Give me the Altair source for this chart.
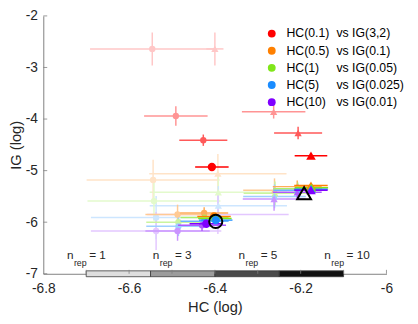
import altair as alt
import pandas as pd

# ---------------- data ----------------
hc_names = ["HC(0.1)", "HC(0.5)", "HC(1)", "HC(5)", "HC(10)"]
ig_names = ["vs IG(3,2)", "vs IG(0.1)", "vs IG(0.05)", "vs IG(0.025)", "vs IG(0.01)"]
base_colors = ["#FF0000", "#FF8000", "#80E619", "#1A8CFF", "#8000FF"]
nrep = [1, 3, 5, 10]
shade = [0.22, 0.42, 0.65, 1.0]

# circle markers (rows: series, cols: n_rep 1,3,5,10)
circ_x = [
    [-6.546, -6.491, -6.427, -6.407],
    [-6.544, -6.487, -6.425, -6.402],
    [-6.542, -6.485, -6.424, -6.400],
    [-6.537, -6.485, -6.424, -6.398],
    [-6.537, -6.487, -6.430, -6.420],
]
circ_y = [
    [-2.64, -3.94, -4.41, -4.93],
    [-5.18, -5.85, -5.82, -5.89],
    [-5.59, -6.00, -5.91, -5.93],
    [-5.91, -6.08, -5.98, -5.96],
    [-6.17, -6.17, -6.06, -6.03],
]
circ_xerr = [
    [0.145, 0.074, 0.056, 0.039],
    [0.155, 0.075, 0.056, 0.039],
    [0.155, 0.075, 0.056, 0.039],
    [0.152, 0.075, 0.056, 0.039],
    [0.152, 0.075, 0.056, 0.039],
]
circ_yerr = [
    [0.32, 0.19, 0.11, 0.05],
    [0.39, 0.19, 0.11, 0.05],
    [0.38, 0.19, 0.11, 0.05],
    [0.42, 0.19, 0.11, 0.05],
    [0.37, 0.19, 0.11, 0.05],
]
# triangle markers
tri_x = [
    [-6.400, -6.263, -6.206, -6.176],
    [-6.393, -6.261, -6.208, -6.176],
    [-6.392, -6.260, -6.207, -6.175],
    [-6.392, -6.261, -6.207, -6.176],
    [-6.393, -6.262, -6.208, -6.176],
]
tri_y = [
    [-2.64, -3.86, -4.27, -4.71],
    [-5.06, -5.38, -5.31, -5.29],
    [-5.42, -5.44, -5.35, -5.33],
    [-5.68, -5.50, -5.38, -5.36],
    [-5.85, -5.55, -5.42, -5.38],
]
tri_xerr = [
    [0.020, 0.074, 0.056, 0.038],
    [0.160, 0.073, 0.057, 0.039],
    [0.160, 0.073, 0.057, 0.039],
    [0.160, 0.073, 0.057, 0.039],
    [0.165, 0.073, 0.057, 0.039],
]
tri_yerr = [
    [0.32, 0.13, 0.12, 0.05],
    [0.38, 0.23, 0.12, 0.05],
    [0.38, 0.23, 0.12, 0.05],
    [0.38, 0.23, 0.12, 0.05],
    [0.38, 0.23, 0.12, 0.05],
]
# reference (true) values
ref_x = [-6.398, -6.192]
ref_y = [-5.985, -5.44]
ref_shape = ["circle", "triangle-up"]

# colorbar of n_rep
cbar_edges = [-6.7, -6.55, -6.4, -6.25, -6.1]
cbar_grays = ["#DEDEDE", "#9C9C9C", "#4A4A4A", "#111111"]
cbar_label_x = [-6.7, -6.5, -6.3, -6.1]

x_ticks_major = [-6.8, -6.6, -6.4, -6.2, -6.0]
x_ticks_minor = [-6.7, -6.6, -6.5, -6.4, -6.3, -6.2, -6.1, -6.0]
y_ticks = [-7, -6, -5, -4, -3, -2]

# ---------------- build tables ----------------
def blend(hexc, a):
    r, g, b = int(hexc[1:3], 16), int(hexc[3:5], 16), int(hexc[5:7], 16)
    f = lambda c: int(round(255 - (255 - c) * a))
    return "#%02X%02X%02X" % (f(r), f(g), f(b))

rows = []
for s in range(5):
    for k in range(4):
        col = blend(base_colors[s], shade[k])
        big = k == 3
        rows.append(dict(s=s, k=k, shape="circle", x=circ_x[s][k], y=circ_y[s][k],
                         xlo=circ_x[s][k] - circ_xerr[s][k], xhi=circ_x[s][k] + circ_xerr[s][k],
                         ylo=circ_y[s][k] - circ_yerr[s][k], yhi=circ_y[s][k] + circ_yerr[s][k],
                         color=col, size=72 if big else 42))
        rows.append(dict(s=s, k=k, shape="triangle-up", x=tri_x[s][k], y=tri_y[s][k],
                         xlo=tri_x[s][k] - tri_xerr[s][k], xhi=tri_x[s][k] + tri_xerr[s][k],
                         ylo=tri_y[s][k] - tri_yerr[s][k], yhi=tri_y[s][k] + tri_yerr[s][k],
                         color=col, size=95 if big else 55))
df = pd.DataFrame(rows)

FONT = "Liberation Sans"
TXT = "#262626"
W, H = 350, 263
xs = alt.Scale(domain=[-6.8, -6.0], nice=False, zero=False)
ys = alt.Scale(domain=[-7, -2], nice=False, zero=False)
xaxis = alt.Axis(values=x_ticks_major, labelExpr="toString(datum.value)", title="HC (log)",
                 labelPadding=8, titlePadding=4, labelFlush=False)
yaxis = alt.Axis(values=y_ticks, labelExpr="toString(datum.value)", title="IG (log)",
                 labelPadding=6, titlePadding=2, labelFlush=False)

def X(f):
    return alt.X(f, type="quantitative", scale=xs, axis=xaxis)

def Y(f):
    return alt.Y(f, type="quantitative", scale=ys, axis=yaxis)

layers = []

# colorbar
cb = pd.DataFrame({"x0": cbar_edges[:-1], "x1": cbar_edges[1:], "g": cbar_grays})
layers.append(alt.Chart(cb).mark_rect(stroke="#3a3a3a", strokeWidth=0.8).encode(
    x=X("x0"), x2="x1", y=alt.value(H - 3), y2=alt.value(H + 3),
    color=alt.Color("g:N", scale=None)))

# ticks (inward)
layers.append(alt.Chart(pd.DataFrame({"t": x_ticks_minor})).mark_rule(color="#808080", strokeWidth=0.8).encode(
    x=X("t"), y=alt.value(H), y2=alt.value(H - 4)))
layers.append(alt.Chart(pd.DataFrame({"t": y_ticks})).mark_rule(color="#808080", strokeWidth=0.8).encode(
    y=Y("t"), x=alt.value(0), x2=alt.value(4)))

# data, level by level
for k in range(4):
    d = df[df.k == k]
    layers.append(alt.Chart(d).mark_rule(strokeWidth=1.5).encode(
        x=X("xlo"), x2="xhi", y=Y("y"), color=alt.Color("color:N", scale=None)))
    layers.append(alt.Chart(d).mark_rule(strokeWidth=1.5).encode(
        x=X("x"), y=Y("ylo"), y2="yhi", color=alt.Color("color:N", scale=None)))
    layers.append(alt.Chart(d).mark_point(filled=True, opacity=1).encode(
        x=X("x"), y=Y("y"), color=alt.Color("color:N", scale=None),
        shape=alt.Shape("shape:N", scale=None), size=alt.Size("size:Q", scale=None)))

# reference markers
ref = pd.DataFrame({"x": ref_x, "y": ref_y, "shape": ref_shape, "size": [180, 200]})
layers.append(alt.Chart(ref).mark_point(filled=False, color="black", strokeWidth=2, opacity=1).encode(
    x=X("x"), y=Y("y"), shape=alt.Shape("shape:N", scale=None), size=alt.Size("size:Q", scale=None)))

# n_rep labels
nl = pd.DataFrame({"x": cbar_label_x, "eq": ["= %d" % n for n in nrep]})
layers.append(alt.Chart(nl).mark_text(align="right", baseline="middle", fontSize=12, font=FONT, color=TXT, dx=-13).encode(
    x=X("x"), y=alt.value(H - 19), text=alt.value("n")))
layers.append(alt.Chart(nl).mark_text(align="center", baseline="middle", fontSize=9, font=FONT, color=TXT, dx=-6).encode(
    x=X("x"), y=alt.value(H - 11), text=alt.value("rep")))
layers.append(alt.Chart(nl).mark_text(align="left", baseline="middle", fontSize=12, font=FONT, color=TXT, dx=3).encode(
    x=X("x"), y=alt.value(H - 19), text="eq:N"))

# legend
leg = pd.DataFrame({
    "ly": [-2 - (18 + 17.5 * i) / (H / 5) for i in range(5)],
    "hc": hc_names, "ig": ig_names, "c": base_colors})
layers.append(alt.Chart(leg).mark_point(filled=True, opacity=1, size=64).encode(
    x=alt.value(233), y=Y("ly"), color=alt.Color("c:N", scale=None)))
layers.append(alt.Chart(leg).mark_text(align="left", baseline="middle", fontSize=12.5, font=FONT, color="black").encode(
    x=alt.value(248), y=Y("ly"), text="hc:N"))
layers.append(alt.Chart(leg).mark_text(align="left", baseline="middle", fontSize=12.5, font=FONT, color="black").encode(
    x=alt.value(299), y=Y("ly"), text="ig:N"))

chart = alt.layer(*layers).properties(
    width=W, height=H,
    padding={"left": 36, "top": 5, "right": 24, "bottom": 40},
    autosize=alt.AutoSizeParams(type="none"),
).configure_view(stroke=None).configure_axis(
    grid=False, ticks=False, domainColor="#808080", domainWidth=1,
    labelFont=FONT, labelFontSize=14, labelColor=TXT,
    titleFont=FONT, titleFontSize=15, titleFontWeight="normal", titleColor=TXT,
)

chart.save("out.html", embed_options={"renderer": "svg", "actions": False})
